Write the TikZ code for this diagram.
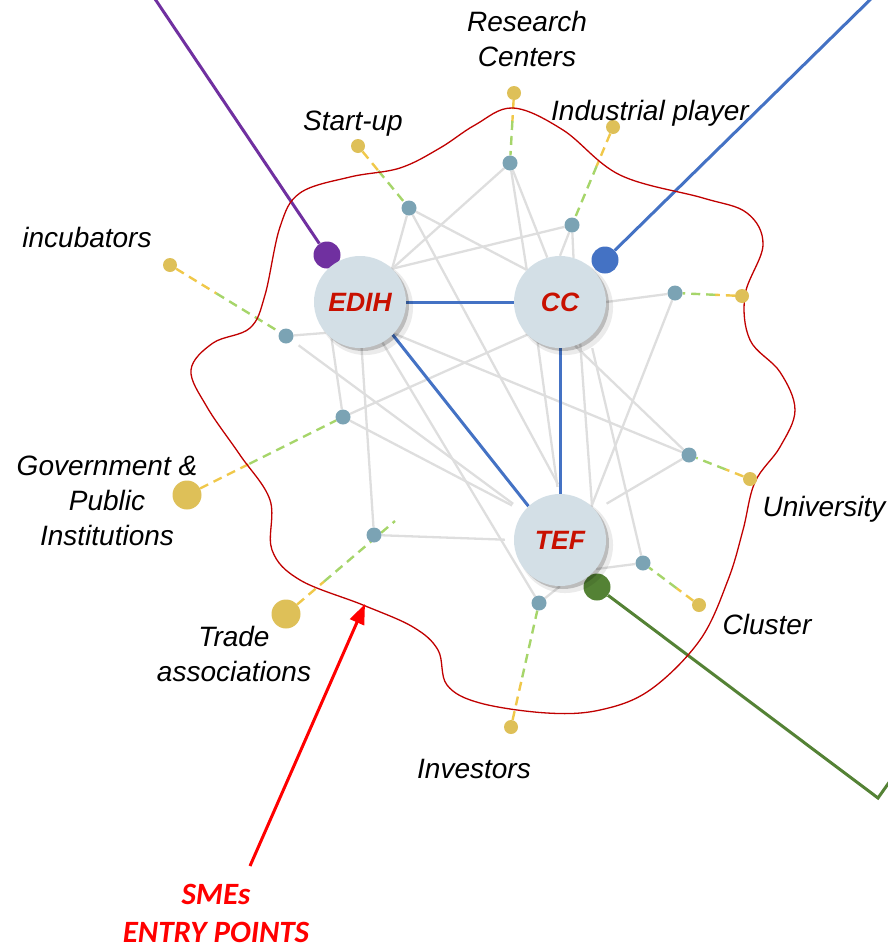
\documentclass[tikz,border=0pt]{standalone}
\usepackage{fontspec}
\newfontfamily\arialf{Liberation Sans}
\newfontfamily\calibf{Carlito}
\usetikzlibrary{calc,shadows,arrows.meta}
\definecolor{circfill}{RGB}{211,223,230}
\definecolor{sdotc}{RGB}{123,163,180}
\definecolor{ydotc}{RGB}{222,192,88}
\definecolor{glc}{RGB}{222,222,222}
\definecolor{blc}{RGB}{68,114,196}
\definecolor{purp}{RGB}{112,48,160}
\definecolor{grn}{RGB}{84,130,53}
\definecolor{curvec}{RGB}{192,0,0}
\definecolor{labred}{RGB}{200,16,0}
\definecolor{smered}{RGB}{255,0,0}
\definecolor{gdashc}{RGB}{166,213,106}
\definecolor{ydashc}{RGB}{240,200,74}
\pgfdeclarelayer{bg}
\pgfsetlayers{bg,main}
\newcommand\dashlink[3][0.4]{%
  \draw[ydash] (#2) -- ($(#2)!#1!(#3)$);
  \draw[gdash] ($(#2)!#1!(#3)$) -- (#3);}
\begin{document}
\begin{tikzpicture}[x=1pt,y=-1pt,
  big/.style={circle, fill=circfill, minimum size=92pt, inner sep=0pt,
    font=\arialf\bfseries\itshape\fontsize{26.5}{30}\selectfont, text=labred,
    drop shadow={shadow xshift=5pt,shadow yshift=-5pt,opacity=.08,fill=black,shadow scale=1.04},
    drop shadow={shadow xshift=3pt,shadow yshift=-3pt,opacity=.2,fill=black}},
  sdot/.style={circle, fill=sdotc, minimum size=15pt, inner sep=0pt},
  ydot/.style={circle, fill=ydotc, minimum size=14pt, inner sep=0pt},
  ybig/.style={circle, fill=ydotc, minimum size=29pt, inner sep=0pt},
  cdot/.style={circle, fill=#1, minimum size=27pt, inner sep=0pt},
  gl/.style={draw=glc, line width=2.3pt},
  bl/.style={draw=blc, line width=3pt},
  ydash/.style={draw=ydashc, line width=2.4pt, dash pattern=on 9pt off 6pt},
  gdash/.style={draw=gdashc, line width=2.4pt, dash pattern=on 9pt off 6pt},
  lab/.style={font=\arialf\itshape\fontsize{28}{35}\selectfont, text=black, inner sep=0pt, anchor=base},
  sme/.style={font=\calibf\bfseries\itshape\fontsize{31}{38}\selectfont, text=smered, inner sep=0pt, anchor=base},
  cline/.style={draw=#1, line width=3pt}]
\useasboundingbox (0,0) rectangle (887,948);
\clip (0,0) rectangle (887,948);

% red boundary curve
\draw[curvec, line width=1.3pt] plot[smooth cycle, tension=0.6] coordinates {
 (513,108) (563,130) (620,175) (703,198) (747,213) (763,245) (745,295)
 (750,340) (780,372) (795,410) (780,447) (755,482) (743,530) (728,580)
 (700,640) (650,690) (600,710) (547,713) (480,703) (447,685) (438,650)
 (413,627) (363,605) (300,580) (272,550) (270,500) (240,455) (207,407)
 (191,370) (213,343) (250,328) (265,295) (280,227) (300,193) (350,177)
 (400,168) (440,148) (475,125)};

% coloured entry dots (behind the big circles)
\node[cdot=purp] (pdot) at (327,255) {};
\node[cdot=blc] (bdot) at (605,260) {};
\node[cdot=grn] (gdot) at (597,587) {};
\coordinate (ptop) at (149,-10);
\coordinate (btop) at (880,-10);
\coordinate (gc1) at (878,798);
\coordinate (gc2) at (895,774);

% big nodes
\node[big] (EDIH) at (360,302) {EDIH};
\node[big] (CC) at (560,302) {CC};
\node[big] (TEF) at (560,540) {TEF};

% small nodes
\node[sdot] (a) at (510,163) {};
\node[sdot] (b) at (409,208) {};
\node[sdot] (c) at (572,225) {};
\node[sdot] (d) at (675,293) {};
\node[sdot] (e) at (286,336) {};
\node[sdot] (f) at (343,417) {};
\node[sdot] (g) at (689,455) {};
\node[sdot] (h) at (374,535) {};
\node[sdot] (i) at (643,563) {};
\node[sdot] (j) at (539,603) {};

% yellow actor dots
\node[ydot] (ry) at (514,93) {};
\node[ydot] (sy) at (358,146) {};
\node[ydot] (iy) at (613,127) {};
\node[ydot] (incy) at (170,265) {};
\node[ydot] (dy) at (742,296) {};
\node[ydot] (uy) at (750,479) {};
\node[ydot] (cly) at (699,605) {};
\node[ydot] (invy) at (511,727) {};
\node[ybig] (gy) at (187,495) {};
\node[ybig] (ty) at (286,614) {};
\coordinate (tx) at (395,521);

% labels (multi-line nodes: base = last line)
\node[lab, align=center] (lres) at (527,66) {Research\\Centers};
\node[lab] (lstart) at (353,130) {Start-up};
\node[lab] (lind) at (650,120) {Industrial player};
\node[lab] (linc) at (87,247) {incubators};
\node[lab, align=center] (lgov) at (107,545) {Government \&\\Public\\Institutions};
\node[lab] (luni) at (824,516) {University};
\node[lab, align=center] (ltrade) at (234,681) {Trade\\associations};
\node[lab] (lclu) at (767,634) {Cluster};
\node[lab] (linv) at (474,778) {Investors};
\node[sme, align=center] (lsme) at (216,942) {SMEs\\ENTRY POINTS};

% SMEs arrow
\coordinate (arrS) at (250,866);
\coordinate (arrE) at (365,604);
\draw[smered, line width=3pt, -{Triangle[length=20pt,width=15pt]}] (arrS) -- (arrE);

\begin{pgfonlayer}{bg}
  % grey links
  \draw[gl] (b) -- (EDIH.46);
  \draw[gl] (a) -- (EDIH.46);
  \draw[gl] (c) -- (EDIH.46);
  \draw[gl] (e) -- (EDIH.222);
  \draw[gl] (EDIH.232) -- (f);
  \draw[gl] (EDIH.272) -- (h);
  \draw[gl] (EDIH.299) -- (j);
  \draw[gl] (EDIH.317) -- (g);
  \draw[gl, shorten <=8pt, shorten >=13pt] (e) -- (TEF.142);
  \draw[gl, shorten >=13pt] (f) -- (TEF.142);
  \draw[gl] (f) -- (CC.225);
  \draw[gl, shorten >=9pt] (h) -- (TEF.180);
  \draw[gl, shorten >=11pt] (b) -- (TEF.86);
  \draw[gl] (b) -- (CC.136);
  \draw[gl] (a) -- (CC.136);
  \draw[gl] (a) -- (CC.106);
  \draw[gl] (c) -- (CC.90);
  \draw[gl] (c) -- (CC.73);
  \draw[gl] (CC.0) -- (d);
  \draw[gl] (CC.289) -- (g);
  \draw[gl] (CC.296) -- (TEF.46);
  \draw[gl, shorten >=7pt] (CC.241) -- (TEF.92);
  \draw[gl, shorten <=11pt] (CC.310) -- (i);
  \draw[gl] (d) -- (TEF.47);
  \draw[gl, shorten >=13pt] (g) -- (TEF.40);
  \draw[gl] (i) -- (TEF.321);
  \draw[gl] (j) -- (TEF.270);
  % blue links
  \draw[bl] (EDIH) -- (CC);
  \draw[bl] (CC) -- (TEF);
  \draw[bl] (EDIH.315) -- (TEF.133);
  % dashed actor links
  \dashlink{ry}{a}
  \dashlink{sy}{b}
  \dashlink{iy}{c}
  \dashlink{incy}{e}
  \dashlink{dy}{d}
  \dashlink{uy}{g}
  \dashlink{cly}{i}
  \dashlink{invy}{j}
  \dashlink{gy}{f}
  \dashlink[0.35]{ty}{tx}
  % coloured lines
  \draw[cline=purp] (pdot) -- (ptop);
  \draw[cline=blc] (bdot) -- (btop);
  \draw[cline=grn, line join=miter] (gdot) -- (gc1) -- (gc2);
\end{pgfonlayer}
\end{tikzpicture}
\end{document}
